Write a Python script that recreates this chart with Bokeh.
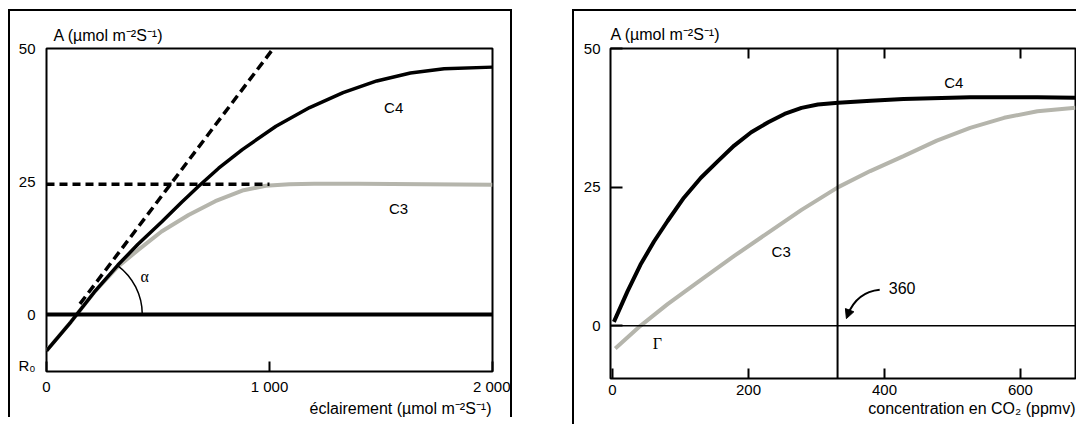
from bokeh.plotting import figure
from bokeh.models import Label, FixedTicker, LinearAxis, Range1d, Arrow, NormalHead, Span, Title
from bokeh.layouts import row
from bokeh.embed import file_html
from bokeh.resources import INLINE

# ---------------- data : left panel (response to light) ----------------
light_ticks = [0, 1000, 2000]
light_tick_labels = {0: "0", 1000: "1 000", 2000: "2 000"}
a_ticks = [0, 25, 50]
r0_label_y = -9.5              # position of the "R0" label on the A axis

light_c4_x = [0, 109, 214, 320, 410, 516, 606, 682, 772, 878, 1029, 1180, 1330, 1481, 1632, 1783, 2000]
light_c4_y = [-6.8, -1.4, 4.2, 9.3, 13.2, 17.4, 21.1, 24.1, 27.5, 31.0, 35.4, 38.9, 41.7, 43.9, 45.4, 46.2, 46.5]

light_c3_x = [0, 109, 214, 320, 410, 516, 637, 757, 878, 983, 1089, 1200, 1400, 1700, 2000]
light_c3_y = [-6.8, -1.4, 4.2, 9.0, 12.1, 15.6, 18.7, 21.3, 23.3, 24.2, 24.5, 24.6, 24.6, 24.5, 24.4]

c3_amax = 24.5                 # horizontal dashed line (Amax of C3)
c3_amax_x = [0, 1000]
tangent_x = [150, 1017]        # initial slope (alpha) dashed line
tangent_y = [2.0, 50]
alpha_center = (156, 0)

# ---------------- data : right panel (response to CO2) ----------------
co2_ticks = [0, 200, 400, 600]
co2_now = 331                  # vertical line, labelled 360

co2_c4_x = [2, 22, 41, 61, 81, 105, 130, 155, 179, 204, 229, 253, 278, 302, 332, 380, 428, 526, 625, 681]
co2_c4_y = [0.7, 6.2, 11.0, 15.2, 18.9, 23.1, 26.7, 29.7, 32.5, 34.9, 36.7, 38.2, 39.3, 39.9, 40.2, 40.6, 40.9, 41.2, 41.2, 41.1]

co2_c3_x = [4, 41, 81, 130, 179, 229, 278, 332, 379, 428, 477, 526, 576, 625, 681]
co2_c3_y = [-4.1, 0, 3.9, 8.3, 12.6, 16.8, 20.9, 25.0, 27.9, 30.6, 33.4, 35.7, 37.5, 38.7, 39.3]

# ---------------- styling ----------------
SANS = "Liberation Sans"
SERIF = "Liberation Serif"
GRAY = "#b5b5ac"
UNITS = " (µmol m⁻²S⁻¹)"
BORDER_TOP = 37
BORDER_BOTTOM = 48


def style_axes(p):
    p.grid.visible = False
    p.outline_line_color = "black"
    p.outline_line_width = 2
    p.outline_line_alpha = 1
    for ax in p.axis:
        ax.axis_line_color = None
        ax.major_tick_out = 0
        ax.minor_tick_line_color = None
        ax.major_tick_line_width = 2
        ax.major_tick_line_color = "black"
        ax.major_label_text_font = SANS
        ax.major_label_text_font_size = "15px"
        ax.major_label_text_color = "black"


def title(text, align, offset, standoff):
    return Title(text=text, align=align, offset=offset, standoff=standoff,
                 text_font=SANS, text_font_size="16px", text_font_style="normal",
                 text_color="black")


def label(p, x, y, text, size=15, font=SANS):
    p.add_layout(Label(x=x, y=y, text=text, text_font=font, text_font_size=f"{size}px",
                       text_color="black", text_align="center", text_baseline="middle"))


# ================= left panel =================
p1 = figure(width=500, height=406, x_range=Range1d(0, 2000), y_range=Range1d(-10.7, 50),
            output_backend="svg", toolbar_location=None, title=None,
            min_border_left=36, min_border_right=22,
            min_border_top=BORDER_TOP, min_border_bottom=BORDER_BOTTOM)
p1.margin = (9, 0, 0, 8)
p1.styles = {"border-left": "2px solid black", "border-top": "2px solid black",
             "border-right": "2px solid black", "box-sizing": "content-box"}
style_axes(p1)
p1.xaxis.ticker = FixedTicker(ticks=light_ticks)
p1.xaxis.major_label_overrides = light_tick_labels
p1.xaxis.major_tick_in = 10
p1.xaxis.major_label_standoff = 6
p1.yaxis.ticker = FixedTicker(ticks=[r0_label_y] + a_ticks)
p1.yaxis.major_label_overrides = {r0_label_y: "R₀"}
p1.yaxis.major_tick_in = 0
p1.yaxis.major_label_standoff = 11
p1.add_layout(title("A" + UNITS, "left", 7, 10), "above")
p1.add_layout(title("éclairement" + UNITS, "right", 1, 0), "below")

p1.add_layout(Span(location=0, dimension="width", line_color="black", line_width=4))
p1.line(light_c3_x, light_c3_y, line_color=GRAY, line_width=4)
p1.line(light_c4_x, light_c4_y, line_color="black", line_width=3.5)
p1.line(c3_amax_x, [c3_amax, c3_amax], line_color="black", line_width=3.5, line_dash="8 5")
p1.line(tangent_x, tangent_y, line_color="black", line_width=3.5, line_dash="9 5")
p1.arc(x=[alpha_center[0]], y=[alpha_center[1]], radius=61, radius_units="screen",
       start_angle=0, end_angle=0.94, line_color="black", line_width=1.5)

label(p1, 440, 7.1, "α", 16, SERIF)
label(p1, 1557, 38.9, "C4")
label(p1, 1579, 20.0, "C3")

# ================= right panel =================
p2 = figure(width=502, height=413, x_range=Range1d(-3, 681), y_range=Range1d(-9.5, 50),
            output_backend="svg", toolbar_location=None, title=None,
            min_border_left=36, min_border_right=3,
            min_border_top=BORDER_TOP, min_border_bottom=BORDER_BOTTOM)
p2.margin = (9, 0, 0, 60)
p2.styles = {"border-left": "2px solid black", "border-top": "2px solid black",
             "box-sizing": "content-box"}
top_axis = LinearAxis(ticker=FixedTicker(ticks=co2_ticks[1:]),
                      major_label_overrides={t: "" for t in co2_ticks[1:]})
p2.add_layout(top_axis, "above")
style_axes(p2)
top_axis.major_label_text_font_size = "0px"
top_axis.major_label_standoff = 0
p2.xaxis.major_tick_in = 10
p2.below[0].ticker = FixedTicker(ticks=co2_ticks)
p2.below[0].major_label_standoff = 6
p2.yaxis.ticker = FixedTicker(ticks=a_ticks)
p2.yaxis.major_tick_in = 12
p2.yaxis.major_label_standoff = 10
p2.add_layout(title("A" + UNITS, "left", 0, 12), "above")
p2.add_layout(title("concentration en CO₂ (ppmv)", "right", 0, 0), "below")

p2.add_layout(Span(location=0, dimension="width", line_color="black", line_width=1.5))
p2.add_layout(Span(location=co2_now, dimension="height", line_color="black", line_width=2))
p2.line(co2_c3_x, co2_c3_y, line_color=GRAY, line_width=4)
p2.line(co2_c4_x, co2_c4_y, line_color="black", line_width=4)

p2.quadratic(x0=[393], y0=[6.5], x1=[346], y1=[2.0], cx=[359.5], cy=[6.1],
             line_color="black", line_width=2)
p2.add_layout(Arrow(end=NormalHead(size=9, fill_color="black", line_color="black"),
                    x_start=349, y_start=2.9, x_end=344, y_end=1.3,
                    line_color="black", line_width=2))

label(p2, 426, 6.8, "360", 16)
label(p2, 502, 43.9, "C4")
label(p2, 248, 13.4, "C3")
label(p2, 66, -3.2, "Γ", 16, SERIF)

layout = row(p1, p2)
open("out.html", "w").write(file_html(layout, INLINE))
